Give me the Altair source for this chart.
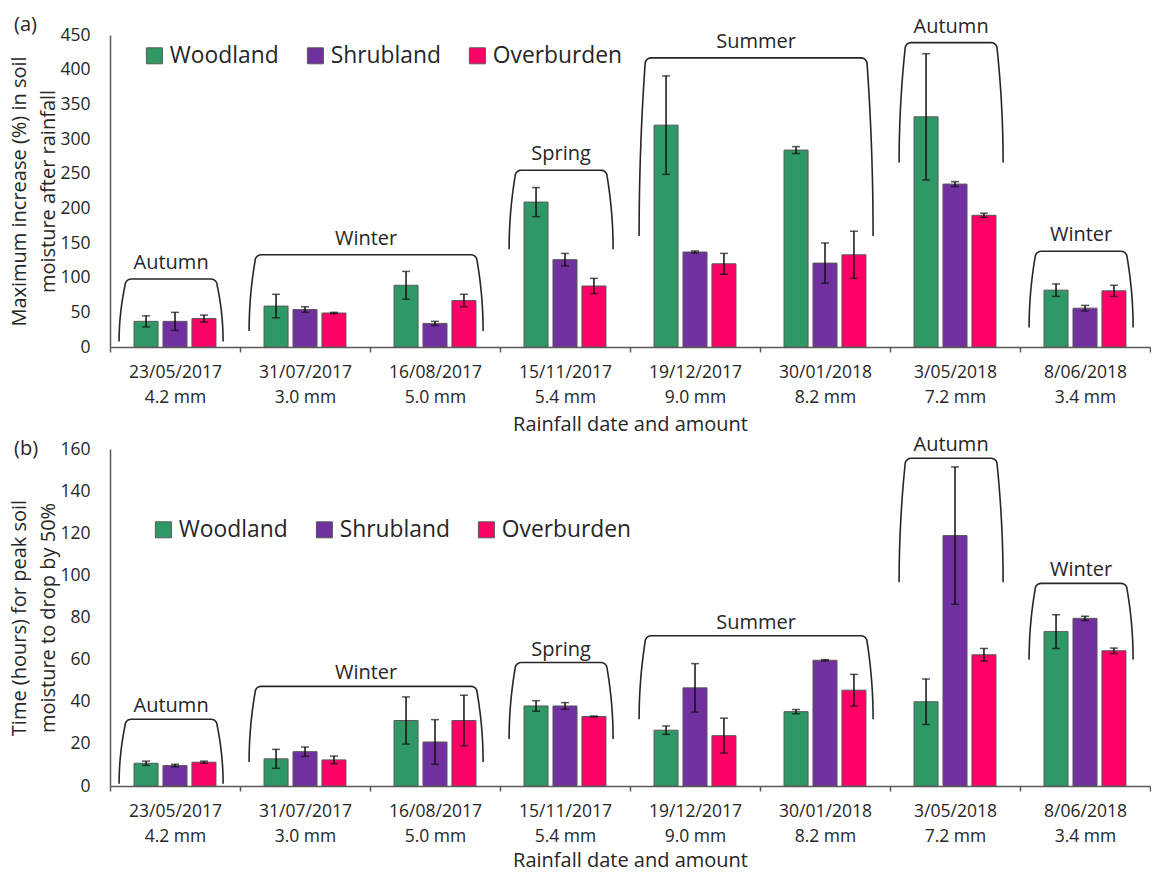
import altair as alt
import numpy as np
import pandas as pd

# Rainfall events (date and amount)
dates = ["23/05/2017", "31/07/2017", "16/08/2017", "15/11/2017",
         "19/12/2017", "30/01/2018", "3/05/2018", "8/06/2018"]
rain = ["4.2 mm", "3.0 mm", "5.0 mm", "5.4 mm", "9.0 mm", "8.2 mm", "7.2 mm", "3.4 mm"]

sites = ["Woodland", "Shrubland", "Overburden"]
site_colors = ["#2E9966", "#7030A0", "#FF0066"]

# (a) Maximum increase (%) in soil moisture after rainfall: mean and error
inc_woodland = [37, 59, 89, 209, 320, 284, 332, 82]
inc_woodland_err = [8, 17, 20, 21, 71, 5, 91, 9]
inc_shrubland = [37, 54, 34, 126, 137, 121, 235, 56]
inc_shrubland_err = [13, 4, 3, 9, 1.5, 29, 3.5, 4]
inc_overburden = [41, 49, 67, 88, 120, 133, 190, 81]
inc_overburden_err = [5, 1, 9, 11, 15, 34, 3, 8]

# (b) Time (hours) for peak soil moisture to drop by 50%: mean and error
time_woodland = [10.8, 12.9, 31.1, 38.0, 26.5, 35.3, 40.0, 73.3]
time_woodland_err = [1.0, 4.5, 11.2, 2.5, 2.0, 1.0, 10.8, 8.0]
time_shrubland = [9.7, 16.3, 20.9, 38.0, 46.6, 59.7, 118.9, 79.6]
time_shrubland_err = [0.6, 2.2, 10.6, 1.6, 11.5, 0.3, 32.6, 1.0]
time_overburden = [11.3, 12.4, 31.1, 33.0, 23.9, 45.5, 62.3, 64.2]
time_overburden_err = [0.5, 1.8, 12.0, 0.2, 8.3, 7.5, 3.0, 1.3]

# Season brackets: name, first and last event covered
season_names = ["Autumn", "Winter", "Spring", "Summer", "Autumn", "Winter"]
season_first = [0, 1, 3, 4, 6, 7]
season_last = [0, 2, 3, 5, 6, 7]
inc_bracket_top = [98, 133, 255, 417, 439, 138]
inc_bracket_bottom = [8, 23, 141, 160, 266, 28]
time_bracket_top = [31.7, 47.3, 58.6, 71.3, 155.6, 96.2]
time_bracket_bottom = [1.1, 11.4, 22.3, 31.7, 96.7, 60.0]

PLOT_W = 1040
FONT = "Open Sans"
TEXT = "#262626"
LINE = "#595959"

events = [f"{d}|{r}" for d, r in zip(dates, rain)]
n_events = len(events)


def bar_frame(means, errs):
    rows = []
    for site, mean, err in zip(sites, means, errs):
        for ev, v, e in zip(events, mean, err):
            rows.append({"event": ev, "site": site, "value": v,
                         "lo": v - e, "hi": v + e})
    return pd.DataFrame(rows)


def bracket_frames(tops, bottoms, ymax, height):
    """Rounded bracket outlines over each season, in event/value units."""
    sx = PLOT_W / n_events
    sy = height / ymax
    tilt, r = 6.0, 6.0
    path_rows, label_rows = [], []
    for k, (name, f, l, t, b) in enumerate(
            zip(season_names, season_first, season_last, tops, bottoms)):
        left, right = f + 0.07, l + 0.87
        H = (t - b) * sy
        W = (right - left) * sx
        half = [(tilt * u ** 2, u * (H - r)) for u in np.linspace(0, 1, 12)]
        half += [(tilt + r + r * np.cos(a), H - r + r * np.sin(a))
                 for a in np.linspace(np.pi, np.pi / 2, 7)[1:]]
        full = half + [(W - px, py) for px, py in reversed(half)]
        for i, (px, py) in enumerate(full):
            path_rows.append({"bracket": k, "ord": i,
                              "bx": left + px / sx, "by": b + py / sy})
        label_rows.append({"season": name, "cx": (left + right) / 2, "top": t})
    return pd.DataFrame(path_rows), pd.DataFrame(label_rows)


def panel(df, tops, bottoms, ymax, step, height, ytitle, tag,
          leg_x, leg_y, label_dy, tag_y, xtitle_pad):
    y_axis = alt.Axis(values=list(range(0, ymax + 1, step)), title=ytitle,
                      ticks=False, grid=False, labelPadding=20,
                      titlePadding=1, titleLineHeight=29, titleFontSize=20)
    y_scale = alt.Scale(domain=[0, ymax], nice=False, zero=True)

    x_enc = alt.X("event:N", sort=events, title="Rainfall date and amount",
                  scale=alt.Scale(paddingInner=0, paddingOuter=0),
                  axis=alt.Axis(labelExpr="split(datum.label, '|')",
                                labelAngle=0, tickBand="extent", ticks=True,
                                tickSize=5, labelPadding=11, labelLineHeight=25,
                                titlePadding=xtitle_pad, titleFontSize=20,
                                grid=False))
    xo_enc = alt.XOffset("site:N", sort=sites,
                         scale=alt.Scale(paddingInner=0.17, paddingOuter=0.83))

    bars = alt.Chart(df).mark_bar(stroke=LINE, strokeWidth=1).encode(
        x=x_enc, xOffset=xo_enc,
        y=alt.Y("value:Q", scale=y_scale, axis=y_axis),
        color=alt.Color("site:N", sort=sites,
                        scale=alt.Scale(domain=sites, range=site_colors),
                        legend=alt.Legend(title=None, orient="none",
                                          legendX=leg_x, legendY=leg_y,
                                          direction="horizontal")),
    )
    whisker = alt.Chart(df).mark_rule(color="#111111", strokeWidth=1.5).encode(
        x=x_enc, xOffset=xo_enc,
        y=alt.Y("lo:Q", scale=y_scale, axis=y_axis), y2="hi:Q",
    )
    cap_lo = alt.Chart(df).mark_tick(color="#111111", size=8, thickness=1.5).encode(
        x=x_enc, xOffset=xo_enc, y=alt.Y("lo:Q", scale=y_scale, axis=y_axis),
    )
    cap_hi = alt.Chart(df).mark_tick(color="#111111", size=8, thickness=1.5).encode(
        x=x_enc, xOffset=xo_enc, y=alt.Y("hi:Q", scale=y_scale, axis=y_axis),
    )
    data_layer = alt.layer(bars, whisker, cap_lo, cap_hi)

    paths, labels = bracket_frames(tops, bottoms, ymax, height)
    bx_scale = alt.Scale(domain=[0, n_events], nice=False, zero=False)
    bracket_line = alt.Chart(paths).mark_line(
        color="#262626", strokeWidth=1.6, interpolate="linear").encode(
        x=alt.X("bx:Q", scale=bx_scale, axis=None),
        y=alt.Y("by:Q", scale=y_scale, axis=y_axis),
        detail="bracket:N", order="ord:Q",
    )
    bracket_text = alt.Chart(labels).mark_text(
        fontSize=20, color=TEXT, baseline="middle", dy=label_dy, font=FONT).encode(
        x=alt.X("cx:Q", scale=bx_scale, axis=None),
        y=alt.Y("top:Q", scale=y_scale, axis=y_axis),
        text="season:N",
    )
    season_layer = alt.layer(bracket_line, bracket_text)

    tag_mark = alt.Chart(pd.DataFrame({"tag": [tag]})).mark_text(
        fontSize=20, color=TEXT, align="left", baseline="middle", font=FONT).encode(
        text="tag:N", x=alt.value(-96), y=alt.value(tag_y),
    )

    return alt.layer(data_layer, season_layer, tag_mark).resolve_scale(
        x="independent").properties(width=PLOT_W, height=height)


panel_a = panel(
    bar_frame([inc_woodland, inc_shrubland, inc_overburden],
              [inc_woodland_err, inc_shrubland_err, inc_overburden_err]),
    inc_bracket_top, inc_bracket_bottom, 450, 50, 312,
    ["Maximum increase (%) in soil", "moisture after rainfall"], "(a)",
    33, 9, -16, -10, 9)

panel_b = panel(
    bar_frame([time_woodland, time_shrubland, time_overburden],
              [time_woodland_err, time_shrubland_err, time_overburden_err]),
    time_bracket_top, time_bracket_bottom, 160, 20, 337,
    ["Time (hours) for peak soil", "moisture to drop by 50%"], "(b)",
    42, 69, -13, 0, 6)

chart = alt.vconcat(panel_a, panel_b, spacing=0).resolve_scale(
    color="independent").resolve_legend(color="independent").properties(
    padding={"left": 9, "top": 15, "right": 0, "bottom": 0}
).configure(font=FONT).configure_view(stroke=None).configure_axis(
    labelFont=FONT, titleFont=FONT, labelFontSize=17.5, titleFontSize=20,
    labelColor=TEXT, titleColor=TEXT, titleFontWeight="normal",
    domainColor=LINE, domainWidth=1.5, tickColor=LINE, tickWidth=1.5,
).configure_legend(
    labelFont=FONT, labelFontSize=22.8, labelColor=TEXT, symbolType="square",
    symbolSize=256, symbolStrokeColor=LINE, symbolStrokeWidth=1,
    columnPadding=25, labelOffset=4, padding=0,
)

chart.save("out.html", embed_options={"renderer": "svg", "actions": False})
